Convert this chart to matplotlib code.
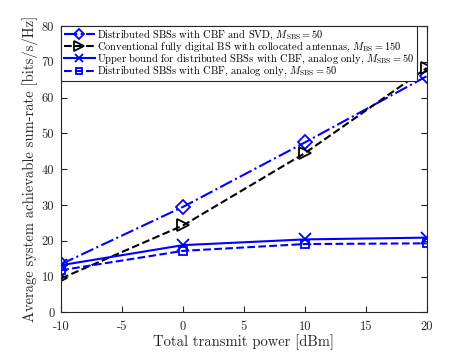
import matplotlib
matplotlib.use('Agg')
import matplotlib.pyplot as plt

plt.rcParams['font.family'] = 'cmr10'
plt.rcParams['mathtext.fontset'] = 'cm'
plt.rcParams['axes.unicode_minus'] = False

power = [-10, 0, 10, 20]
cbf_svd = [13.5, 29.5, 47.5, 66.0]
digital = [9.5, 24.3, 44.5, 68.3]
upper_bound = [13.2, 18.8, 20.4, 20.9]
cbf_analog = [11.8, 17.2, 19.1, 19.3]

xticks = [-10, -5, 0, 5, 10, 15, 20]
yticks = [0, 10, 20, 30, 40, 50, 60, 70, 80]

labels = [
    r'Distributed SBSs with CBF and SVD, $M_{\mathrm{SBS}}=50$',
    r'Conventional fully digital BS with collocated antennas, $M_{\mathrm{BS}}=150$',
    r'Upper bound for distributed SBSs with CBF, analog only, $M_{\mathrm{SBS}}=50$',
    r'Distributed SBSs with CBF, analog only, $M_{\mathrm{SBS}}=50$',
]

fig = plt.figure(figsize=(4.71, 3.53), dpi=100)
ax = fig.add_axes([0.13, 0.115, 0.776, 0.811])

ax.plot(power, cbf_svd, '-.', color='blue', marker='D', ms=7, mfc='none', mew=1.3, lw=1.5, label=labels[0])
ax.plot(power, digital, '--', color='black', marker='>', ms=9, mfc='none', mew=1.3, lw=1.5, label=labels[1])
ax.plot(power, upper_bound, '-', color='blue', marker='x', ms=8, mew=1.3, lw=1.5, label=labels[2])
ax.plot(power, cbf_analog, '--', color='blue', marker='s', ms=6, mfc='none', mew=1.3, lw=1.5, label=labels[3])

ax.set_xlim(-10, 20)
ax.set_ylim(0, 80)
ax.set_xticks(xticks)
ax.set_xticklabels([str(t) for t in xticks])
ax.set_yticks(yticks)
ax.set_yticklabels([str(t) for t in yticks])
ax.tick_params(direction='in', top=True, right=True, labelsize=9, colors='#262626', length=4)
ax.tick_params(axis='x', pad=6)
ax.tick_params(axis='y', pad=5)
for s in ax.spines.values():
    s.set_color('#262626')
    s.set_linewidth(0.8)

ax.set_xlabel('Total transmit power [dBm]', fontsize=10.5, color='#262626', labelpad=1)
ax.set_ylabel('Average system achievable sum-rate [bits/s/Hz]', fontsize=10.5, color='#262626', labelpad=3)

leg = ax.legend(loc='upper left', fontsize=7.5, fancybox=False, edgecolor='#262626',
                framealpha=1, borderaxespad=0, handlelength=3, handletextpad=0.2,
                labelspacing=-0.12, borderpad=0.25, markerscale=0.75)
leg.get_frame().set_linewidth(0.8)

fig.savefig('out.png', dpi=100)
